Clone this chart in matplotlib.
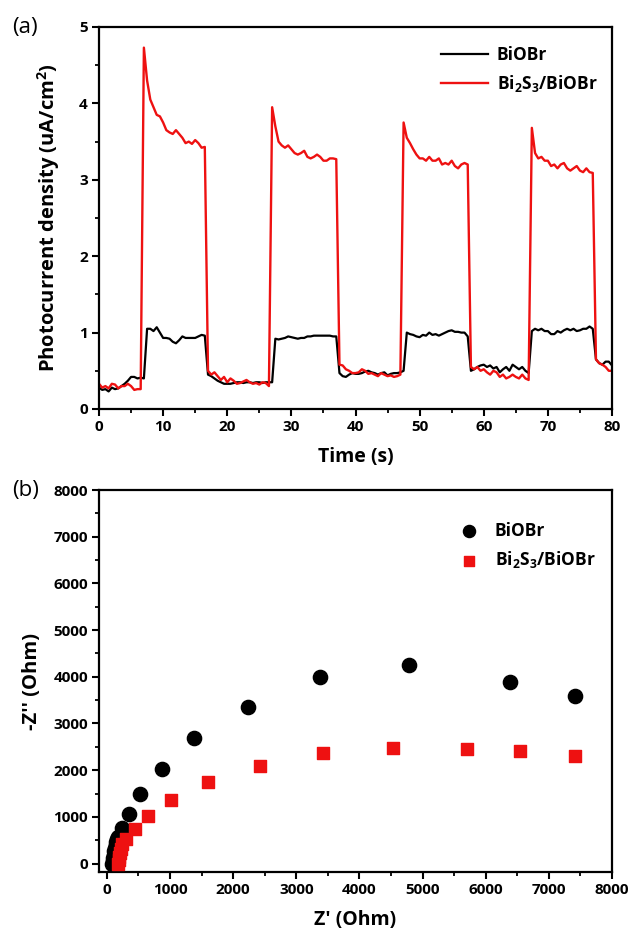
import numpy as np
import matplotlib.pyplot as plt

plt.rcParams["font.family"] = "Open Sans"
plt.rcParams["font.weight"] = "bold"
plt.rcParams["mathtext.fontset"] = "custom"
plt.rcParams["mathtext.rm"] = "Open Sans:bold"
plt.rcParams["mathtext.bf"] = "Open Sans:bold"

# ---------------- data: (a) photocurrent ----------------
time_s = np.arange(0, 80.5, 0.5)

biobr_j = [
    0.28, 0.25, 0.26, 0.23, 0.28, 0.26, 0.27, 0.30, 0.33, 0.37, 0.42, 0.42, 0.40, 0.41, 0.40,
    1.05, 1.05, 1.02, 1.07, 1.00, 0.93, 0.93, 0.92, 0.88, 0.86, 0.90, 0.95, 0.93, 0.93, 0.93,
    0.93, 0.95, 0.97, 0.96, 0.45, 0.43, 0.40, 0.37, 0.35, 0.33, 0.33, 0.33, 0.34, 0.35, 0.35,
    0.34, 0.35, 0.35, 0.34, 0.35, 0.35, 0.34, 0.35, 0.35, 0.35, 0.92, 0.91, 0.92, 0.93, 0.95,
    0.94, 0.93, 0.92, 0.93, 0.93, 0.95, 0.95, 0.96, 0.96, 0.96, 0.96, 0.96, 0.96, 0.95, 0.95,
    0.47, 0.43, 0.42, 0.45, 0.47, 0.46, 0.46, 0.47, 0.49, 0.50, 0.48, 0.47, 0.45, 0.47, 0.48,
    0.44, 0.46, 0.47, 0.47, 0.48, 0.50, 1.00, 0.98, 0.97, 0.95, 0.94, 0.97, 0.96, 1.00, 0.97,
    0.98, 0.96, 0.98, 1.00, 1.02, 1.03, 1.01, 1.01, 1.00, 1.00, 0.95, 0.50, 0.52, 0.55, 0.57,
    0.58, 0.55, 0.57, 0.53, 0.55, 0.48, 0.52, 0.55, 0.50, 0.58, 0.55, 0.52, 0.55, 0.50, 0.47,
    1.02, 1.05, 1.03, 1.05, 1.02, 1.02, 0.98, 0.98, 1.02, 1.00, 1.03, 1.05, 1.03, 1.05, 1.02,
    1.03, 1.05, 1.05, 1.08, 1.05, 0.65, 0.60, 0.58, 0.62, 0.62, 0.57,
]

composite_j = [
    0.33, 0.28, 0.30, 0.27, 0.33, 0.32, 0.27, 0.30, 0.30, 0.33, 0.30, 0.25, 0.26, 0.26, 4.73,
    4.30, 4.05, 3.95, 3.85, 3.83, 3.75, 3.65, 3.62, 3.60, 3.65, 3.60, 3.55, 3.48, 3.50, 3.47,
    3.52, 3.48, 3.42, 3.43, 0.50, 0.45, 0.48, 0.43, 0.38, 0.42, 0.35, 0.40, 0.37, 0.33, 0.34,
    0.36, 0.38, 0.35, 0.33, 0.34, 0.32, 0.35, 0.34, 0.30, 3.95, 3.70, 3.50, 3.45, 3.42, 3.45,
    3.40, 3.35, 3.33, 3.35, 3.38, 3.30, 3.28, 3.30, 3.33, 3.30, 3.25, 3.25, 3.28, 3.28, 3.27,
    0.58, 0.57, 0.52, 0.50, 0.47, 0.47, 0.48, 0.52, 0.50, 0.46, 0.47, 0.45, 0.43, 0.47, 0.45,
    0.43, 0.44, 0.42, 0.43, 0.45, 3.75, 3.55, 3.48, 3.40, 3.33, 3.28, 3.28, 3.25, 3.30, 3.25,
    3.25, 3.28, 3.20, 3.22, 3.20, 3.25, 3.18, 3.15, 3.20, 3.22, 3.20, 0.55, 0.52, 0.55, 0.50,
    0.52, 0.48, 0.45, 0.50, 0.48, 0.42, 0.45, 0.40, 0.42, 0.45, 0.42, 0.40, 0.45, 0.40, 0.38,
    3.68, 3.35, 3.28, 3.30, 3.25, 3.25, 3.18, 3.20, 3.15, 3.20, 3.22, 3.15, 3.12, 3.15, 3.18,
    3.12, 3.10, 3.15, 3.10, 3.09, 0.65, 0.60, 0.58, 0.55, 0.50, 0.50,
]

# ---------------- data: (b) Nyquist ----------------
biobr_zre = [80, 90, 100, 110, 120, 130, 140, 150, 165, 180, 240, 350, 530, 870,
             1380, 2230, 3380, 4790, 6380, 7420]
biobr_zim = [0, 60, 120, 190, 260, 330, 400, 460, 520, 560, 760, 1060, 1500, 2030,
             2690, 3360, 3990, 4260, 3880, 3580]

comp_zre = [175, 185, 195, 210, 225, 245, 300, 440, 650, 1020, 1600, 2430, 3430,
            4530, 5710, 6550, 7420]
comp_zim = [0, 70, 140, 220, 310, 410, 530, 740, 1010, 1360, 1740, 2080, 2360,
            2480, 2450, 2420, 2310]

comp_label = r"Bi$_2$S$_3$/BiOBr"

W, H = 632, 933
fig = plt.figure(figsize=(W / 100, H / 100), dpi=100)


def style(ax):
    for sp in ax.spines.values():
        sp.set_linewidth(1.6)
    ax.tick_params(which="major", direction="out", length=5, width=1.5,
                   labelsize=11, pad=3, top=False, right=False)
    ax.tick_params(which="minor", direction="out", length=3, width=1.3,
                   top=False, right=False)
    for lab in ax.get_xticklabels() + ax.get_yticklabels():
        lab.set_fontweight("bold")


# (a)
ax1 = fig.add_axes([99 / W, 1 - 409 / H, 513 / W, 382 / H])
ax1.plot(time_s, biobr_j, color="black", lw=1.6, label="BiOBr")
ax1.plot(time_s, composite_j, color="#ee1111", lw=1.7, label=comp_label)
ax1.set_xlim(0, 80)
ax1.set_ylim(0, 5)
ax1.set_xticks(np.arange(0, 81, 10))
ax1.set_xticks(np.arange(0, 81, 5), minor=True)
ax1.set_yticks(np.arange(0, 6, 1))
ax1.set_yticks(np.arange(0, 5.1, 0.5), minor=True)
ax1.set_xlabel("Time (s)", fontsize=14, fontweight="bold", labelpad=9)
ax1.set_ylabel(r"Photocurrent density (uA/cm$^2$)", fontsize=14.5,
               fontweight="bold", labelpad=12)
style(ax1)
leg1 = ax1.legend(loc="center left", bbox_to_anchor=(441 / W, 1 - 70 / H),
                  bbox_transform=fig.transFigure, frameon=False, fontsize=12.5,
                  handlelength=2.7, handletextpad=0.5, borderpad=0,
                  borderaxespad=0, labelspacing=0.55)
for t in leg1.get_texts():
    t.set_fontweight("bold")
fig.text(12 / W, 1 - 28 / H, "(a)", fontsize=16, fontweight="normal",
         va="center", ha="left")

# (b)
ax2 = fig.add_axes([99 / W, 1 - 872 / H, 513 / W, 382 / H])
ax2.scatter(biobr_zre, biobr_zim, s=105, marker="o", color="black",
            label="BiOBr", zorder=3)
ax2.scatter(comp_zre, comp_zim, s=80, marker="s", color="#ee1111",
            label=comp_label, zorder=3)
ax2.set_xlim(-125, 8000)
ax2.set_ylim(-180, 8000)
ax2.set_xticks(np.arange(0, 8001, 1000))
ax2.set_xticks(np.arange(0, 8001, 500), minor=True)
ax2.set_yticks(np.arange(0, 8001, 1000))
ax2.set_yticks(np.arange(0, 8001, 500), minor=True)
ax2.set_xlabel("Z' (Ohm)", fontsize=14, fontweight="bold", labelpad=9)
ax2.set_ylabel("-Z'' (Ohm)", fontsize=14.5, fontweight="bold", labelpad=8)
style(ax2)
leg2 = ax2.legend(loc="center left", bbox_to_anchor=(452 / W, 1 - 546 / H),
                  bbox_transform=fig.transFigure, frameon=False, fontsize=12.5,
                  handletextpad=0.45, borderpad=0, borderaxespad=0,
                  labelspacing=0.55, scatterpoints=1, markerscale=0.85)
for t in leg2.get_texts():
    t.set_fontweight("bold")
fig.text(12 / W, 1 - 490 / H, "(b)", fontsize=16, fontweight="normal",
         va="center", ha="left")

fig.savefig("out.png", dpi=100)
